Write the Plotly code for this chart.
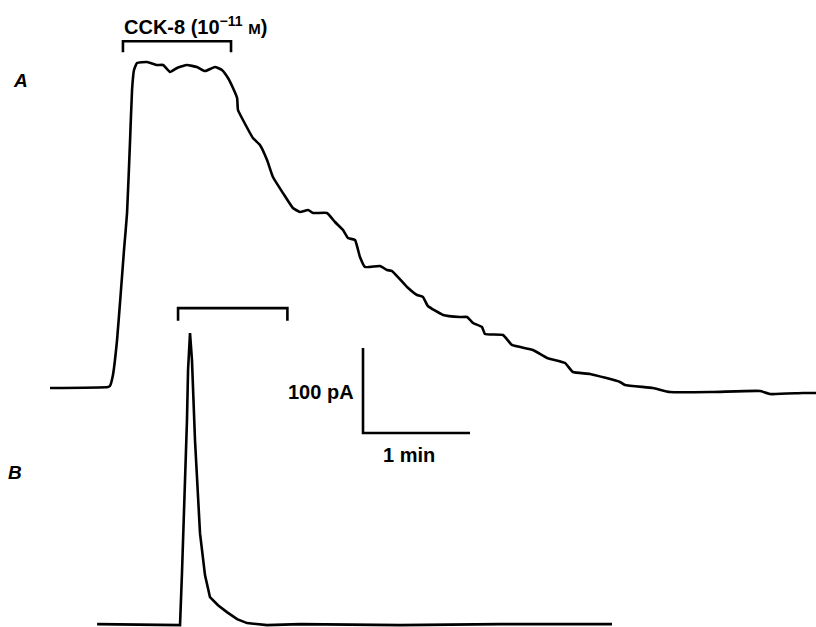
import plotly.graph_objects as go

# ---- data (time in s, current in pA) ----
a_t = [0, 32.5, 33.6, 35.3, 37.6, 39.8, 41.5, 43.2, 44.9, 46.0, 47.1, 48.8, 54.4, 60.0, 63.4,
       67.3, 71.2, 76.8, 82.4, 86.9, 92.5, 96.4, 99.8, 102.6, 104.9, 105.4, 108.2, 113.8,
       117.7, 121.7, 125.0, 130.6, 136.2, 140.2, 144.7, 147.5, 155.3, 159.8, 164.3, 167.1,
       171.0, 173.8, 176.6, 185.0, 189.0, 191.8, 200.2, 205.8, 209.1, 211.9, 220.4, 229.9,
       233.8, 237.2, 242.2, 243.9, 254.0, 259.0, 270.8, 278.7, 288.8, 293.2, 302.8, 319.6,
       322.4, 338.1, 347.6, 371.7, 398.1, 403.7, 422.2, 429.5]
a_i = [0, 1.2, 2.4, 15.3, 56.5, 115.3, 162.4, 205.9, 291.8, 350.6, 374.1, 382.4, 383.5, 380.0,
       380.0, 371.8, 376.5, 380.0, 377.6, 372.9, 377.6, 374.1, 364.7, 352.9, 341.2, 327.1,
       315.3, 294.1, 285.9, 268.2, 248.2, 229.4, 211.8, 207.1, 209.4, 205.9, 205.9, 195.3,
       185.9, 176.5, 174.1, 154.1, 142.4, 143.5, 138.8, 137.6, 118.8, 109.4, 107.1, 96.5,
       85.9, 83.5, 83.5, 76.5, 71.8, 63.5, 62.4, 50.6, 44.7, 35.3, 29.4, 18.8, 16.5, 7.1,
       3.5, 0, -4.7, -4.7, -3.5, -7.1, -5.9, -5.9]

b_t = [26.4, 72.9, 74.0, 75.7, 76.8, 77.4, 78.5, 79.6, 81.3, 84.1, 86.9, 89.7, 94.2, 99.2,
       104.9, 110.5, 121.7, 140.2, 196.3, 252.3, 315.1]
b_i = [1.2, 0, 61.2, 158.8, 241.2, 300.0, 343.5, 311.8, 217.6, 108.2, 58.8, 32.9, 23.5, 15.3,
       7.1, 2.4, 0, 1.2, 0, 1.2, 1.2]

app_a = [40.9, 101.5]   # CCK-8 application, trace A (s)
app_b = [71.8, 133.1]   # application, trace B (s)
scale_t = 60            # s
scale_i = 100           # pA

B_OFFSET = -279         # vertical offset of trace B (pA)
LW = 2.6

fig = go.Figure()
fig.add_trace(go.Scatter(x=a_t, y=a_i, mode="lines",
                         line=dict(color="black", width=LW, shape="spline", smoothing=0.4),
                         hoverinfo="skip"))
fig.add_trace(go.Scatter(x=b_t, y=[v + B_OFFSET for v in b_i], mode="lines",
                         line=dict(color="black", width=LW), hoverinfo="skip"))

def bracket(t0, t1, y, drop):
    fig.add_trace(go.Scatter(x=[t0, t0, t1, t1], y=[y - drop, y, y, y - drop], mode="lines",
                             line=dict(color="black", width=LW), hoverinfo="skip"))

bracket(app_a[0], app_a[1], 408, 13)
bracket(app_b[0], app_b[1], 94, 15)

sb_x0, sb_y0 = 175.5, -52.9
fig.add_trace(go.Scatter(x=[sb_x0, sb_x0, sb_x0 + scale_t], y=[sb_y0 + scale_i, sb_y0, sb_y0],
                         mode="lines", line=dict(color="black", width=LW), hoverinfo="skip"))

font = dict(family="Liberation Sans, Arial", size=20, color="black")
lab_font = dict(family="Liberation Sans, Arial", size=19, color="black")
fig.add_annotation(x=81.3, y=427,
                   text="<b>CCK-8 (10<sup>−11</sup> <span style='font-size:15px'>M</span>)</b>",
                   showarrow=False, font=font, xanchor="center", yanchor="middle")
fig.add_annotation(x=-16.3, y=362, text="<b><i>A</i></b>", showarrow=False, font=lab_font)
fig.add_annotation(x=-19.6, y=-99, text="<b><i>B</i></b>", showarrow=False, font=lab_font)
fig.add_annotation(x=sb_x0 - 4, y=-5, text="<b>100 pA</b>", showarrow=False,
                   font=font, xanchor="right", yanchor="middle")
fig.add_annotation(x=201.3, y=-78.8, text="<b>1 min</b>", showarrow=False,
                   font=font, xanchor="center", yanchor="middle")

fig.update_layout(
    width=816, height=627, margin=dict(l=0, r=0, t=0, b=0),
    paper_bgcolor="white", plot_bgcolor="white", showlegend=False,
    xaxis=dict(range=[-28.04, 429.5], visible=False, fixedrange=True),
    yaxis=dict(range=[-281.2, 456.5], visible=False, fixedrange=True),
)
fig.write_html("out.html")
